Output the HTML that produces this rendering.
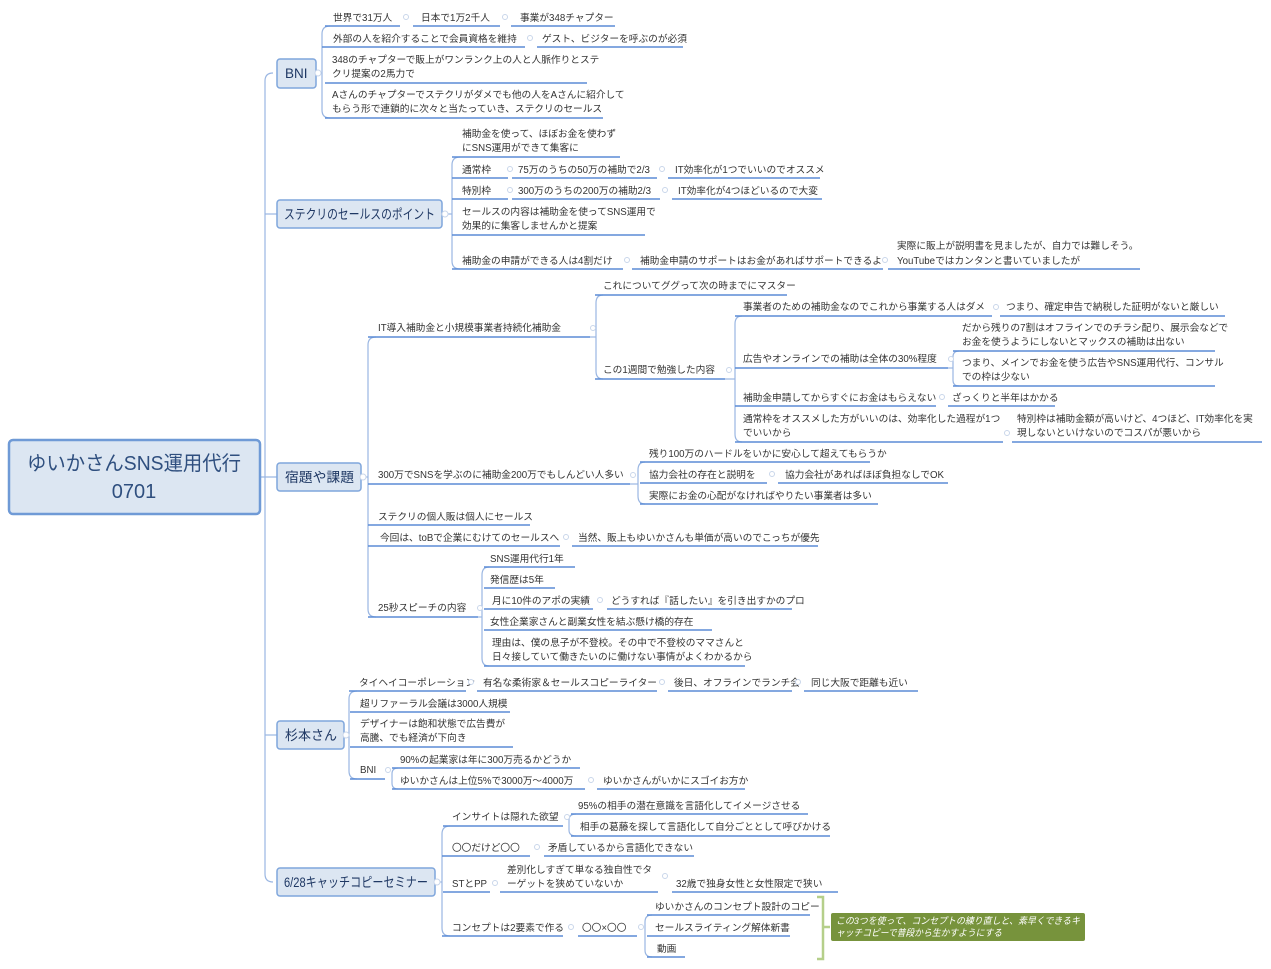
<!DOCTYPE html>
<html><head><meta charset="utf-8">
<style>
html,body{margin:0;padding:0;background:#fff;width:1271px;height:969px;overflow:hidden}
svg{display:block}
.t{font-family:"Liberation Sans","Noto Sans CJK JP",sans-serif;font-size:9.7px;fill:#333}
.u{stroke:#5b8cd6;stroke-width:1.5}
.v{stroke:#9ab6e2;fill:none;stroke-width:1.2}
.c{fill:#fff;stroke:#c9d6ea;stroke-width:1}
.n{fill:#dce6f2;stroke:#7fa6dc;stroke-width:1.5}
.nt{font-family:"Liberation Sans","Noto Sans CJK JP",sans-serif;font-size:13.5px;fill:#1f3864}
</style></head><body>
<svg width="1271" height="969" viewBox="0 0 1271 969">
<path class="v" d="M273,73 Q265,73 265,81 L265,874 Q265,882 273,882"/>
<line class="v" x1="260" y1="477" x2="277" y2="477"/>
<line class="v" x1="265" y1="214" x2="277" y2="214"/>
<line class="v" x1="265" y1="735" x2="277" y2="735"/>

<rect x="9" y="440" width="251" height="74" rx="4" fill="#dce6f2" stroke="#6f9ad6" stroke-width="2.5"/>
<text x="134" y="470" text-anchor="middle" font-family="Liberation Sans,Noto Sans CJK JP,sans-serif" font-size="20" fill="#2f4f7f" textLength="214" lengthAdjust="spacingAndGlyphs">ゆいかさんSNS運用代行</text>
<text x="134" y="498" text-anchor="middle" font-family="Liberation Sans,Noto Sans CJK JP,sans-serif" font-size="20" fill="#2f4f7f">0701</text>

<rect class="n" x="277" y="59" width="39" height="29" rx="3"/><text class="nt" x="285" y="78">BNI</text>
<rect class="n" x="277" y="200" width="165" height="28" rx="3"/><text class="nt" x="284" y="219" textLength="151" lengthAdjust="spacingAndGlyphs">ステクリのセールスのポイント</text>
<rect class="n" x="277" y="463" width="84" height="28" rx="3"/><text class="nt" x="285" y="482" textLength="69" lengthAdjust="spacingAndGlyphs">宿題や課題</text>
<rect class="n" x="277" y="721" width="67" height="28" rx="3"/><text class="nt" x="285" y="740" textLength="52" lengthAdjust="spacingAndGlyphs">杉本さん</text>
<rect class="n" x="277" y="868" width="158" height="28" rx="3"/><text class="nt" x="284" y="887" textLength="144" lengthAdjust="spacingAndGlyphs">6/28キャッチコピーセミナー</text>

<path class="v" d="M330,26 Q322,26 322,34 L322,110 Q322,118 330,118"/>
<line class="v" x1="316" y1="73" x2="322" y2="73"/>
<line class="u" x1="325" y1="26" x2="400" y2="26"/><text class="t" x="333" y="21">世界で31万人</text>
<line class="u" x1="413" y1="26" x2="500" y2="26"/><text class="t" x="421" y="21">日本で1万2千人</text>
<line class="u" x1="511" y1="26" x2="615" y2="26"/><text class="t" x="520" y="21">事業が348チャプター</text>
<line class="u" x1="322" y1="47" x2="525" y2="47"/><text class="t" x="333" y="42">外部の人を紹介することで会員資格を維持</text>
<line class="u" x1="537" y1="47" x2="683" y2="47"/><text class="t" x="542" y="42">ゲスト、ビジターを呼ぶのが必須</text>
<line class="u" x1="325" y1="83" x2="587" y2="83"/><text class="t" x="332" y="63">348のチャプターで販上がワンランク上の人と人脈作りとステ</text><text class="t" x="332" y="77">クリ提案の2馬力で</text>
<line class="u" x1="325" y1="118" x2="603" y2="118"/><text class="t" x="332" y="98">Aさんのチャプターでステクリがダメでも他の人をAさんに紹介して</text><text class="t" x="332" y="112">もらう形で連鎖的に次々と当たっていき、ステクリのセールス</text>

<path class="v" d="M460,157 Q452,157 452,165 L452,261 Q452,269 460,269"/>
<line class="v" x1="442" y1="214" x2="452" y2="214"/>
<line class="u" x1="452" y1="157" x2="620" y2="157"/><text class="t" x="462" y="137">補助金を使って、ほぼお金を使わず</text><text class="t" x="462" y="151">にSNS運用ができて集客に</text>
<line class="u" x1="452" y1="178" x2="508" y2="178"/><text class="t" x="462" y="173">通常枠</text>
<line class="u" x1="512" y1="178" x2="657" y2="178"/><text class="t" x="518" y="173">75万のうちの50万の補助で2/3</text>
<line class="u" x1="668" y1="178" x2="820" y2="178"/><text class="t" x="675" y="173">IT効率化が1つでいいのでオススメ</text>
<line class="u" x1="452" y1="199" x2="508" y2="199"/><text class="t" x="462" y="194">特別枠</text>
<line class="u" x1="512" y1="199" x2="660" y2="199"/><text class="t" x="518" y="194">300万のうちの200万の補助2/3</text>
<line class="u" x1="672" y1="199" x2="822" y2="199"/><text class="t" x="678" y="194">IT効率化が4つほどいるので大変</text>
<line class="u" x1="452" y1="235" x2="645" y2="235"/><text class="t" x="462" y="215">セールスの内容は補助金を使ってSNS運用で</text><text class="t" x="462" y="229">効果的に集客しませんかと提案</text>
<line class="u" x1="452" y1="269" x2="623" y2="269"/><text class="t" x="462" y="264">補助金の申請ができる人は4割だけ</text>
<line class="u" x1="632" y1="269" x2="883" y2="269"/><text class="t" x="640" y="264">補助金申請のサポートはお金があればサポートできるよ</text>
<line class="u" x1="888" y1="269" x2="1140" y2="269"/><text class="t" x="897" y="249">実際に販上が説明書を見ましたが、自力では難しそう。</text><text class="t" x="897" y="264">YouTubeではカンタンと書いていましたが</text>

<path class="v" d="M376,337 Q368,337 368,345 L368,609 Q368,617 376,617"/>
<line class="v" x1="361" y1="477" x2="368" y2="477"/>
<line class="u" x1="368" y1="337" x2="590" y2="337"/><text class="t" x="378" y="331">IT導入補助金と小規模事業者持続化補助金</text>
<path class="v" d="M603,295 Q596,295 596,303 L596,371 Q596,379 603,379"/>
<line class="v" x1="590" y1="337" x2="596" y2="337"/>
<line class="u" x1="595" y1="295" x2="787" y2="295"/><text class="t" x="603" y="289">これについてググって次の時までにマスター</text>
<line class="u" x1="595" y1="379" x2="725" y2="379"/><text class="t" x="603" y="373">この1週間で勉強した内容</text>
<path class="v" d="M742,316 Q735,316 735,324 L735,434 Q735,442 742,442"/>
<line class="v" x1="725" y1="379" x2="735" y2="379"/>
<line class="u" x1="735" y1="316" x2="992" y2="316"/><text class="t" x="743" y="310">事業者のための補助金なのでこれから事業する人はダメ</text>
<line class="u" x1="1000" y1="316" x2="1225" y2="316"/><text class="t" x="1006" y="310">つまり、確定申告で納税した証明がないと厳しい</text>
<line class="u" x1="735" y1="368" x2="948" y2="368"/><text class="t" x="743" y="362">広告やオンラインでの補助は全体の30%程度</text>
<path class="v" d="M959,351 Q953,351 953,357 L953,380 Q953,386 959,386"/>
<line class="v" x1="948" y1="368" x2="953" y2="368"/>
<line class="u" x1="953" y1="351" x2="1215" y2="351"/><text class="t" x="962" y="331">だから残りの7割はオフラインでのチラシ配り、展示会などで</text><text class="t" x="962" y="345">お金を使うようにしないとマックスの補助は出ない</text>
<line class="u" x1="953" y1="386" x2="1215" y2="386"/><text class="t" x="962" y="366">つまり、メインでお金を使う広告やSNS運用代行、コンサル</text><text class="t" x="962" y="380">での枠は少ない</text>
<line class="u" x1="735" y1="406" x2="936" y2="406"/><text class="t" x="743" y="401">補助金申請してからすぐにお金はもらえない</text>
<line class="u" x1="948" y1="406" x2="1055" y2="406"/><text class="t" x="952" y="401">ざっくりと半年はかかる</text>
<line class="u" x1="735" y1="442" x2="1003" y2="442"/><text class="t" x="743" y="422">通常枠をオススメした方がいいのは、効率化した過程が1つ</text><text class="t" x="743" y="436">でいいから</text>
<line class="u" x1="1012" y1="442" x2="1262" y2="442"/><text class="t" x="1017" y="422">特別枠は補助金額が高いけど、4つほど、IT効率化を実</text><text class="t" x="1017" y="436">現しないといけないのでコスパが悪いから</text>

<line class="u" x1="368" y1="484" x2="630" y2="484"/><text class="t" x="378" y="478">300万でSNSを学ぶのに補助金200万でもしんどい人多い</text>
<path class="v" d="M645,462 Q638,462 638,470 L638,496 Q638,504 645,504"/>
<line class="v" x1="630" y1="484" x2="638" y2="484"/>
<line class="u" x1="640" y1="462" x2="870" y2="462"/><text class="t" x="649" y="457">残り100万のハードルをいかに安心して超えてもらうか</text>
<line class="u" x1="640" y1="483" x2="767" y2="483"/><text class="t" x="649" y="478">協力会社の存在と説明を</text>
<line class="u" x1="778" y1="483" x2="948" y2="483"/><text class="t" x="785" y="478">協力会社があればほぼ負担なしでOK</text>
<line class="u" x1="640" y1="504" x2="878" y2="504"/><text class="t" x="649" y="499">実際にお金の心配がなければやりたい事業者は多い</text>
<line class="u" x1="368" y1="525" x2="530" y2="525"/><text class="t" x="378" y="520">ステクリの個人販は個人にセールス</text>
<line class="u" x1="368" y1="546" x2="560" y2="546"/><text class="t" x="380" y="541">今回は、toBで企業にむけてのセールスへ</text>
<line class="u" x1="572" y1="546" x2="818" y2="546"/><text class="t" x="578" y="541">当然、販上もゆいかさんも単価が高いのでこっちが優先</text>
<line class="u" x1="368" y1="617" x2="478" y2="617"/><text class="t" x="378" y="611">25秒スピーチの内容</text>
<path class="v" d="M489,567 Q482,567 482,575 L482,658 Q482,666 489,666"/>
<line class="v" x1="478" y1="617" x2="482" y2="617"/>
<line class="u" x1="484" y1="567" x2="575" y2="567"/><text class="t" x="490" y="562">SNS運用代行1年</text>
<line class="u" x1="484" y1="588" x2="555" y2="588"/><text class="t" x="490" y="583">発信歴は5年</text>
<line class="u" x1="484" y1="609" x2="593" y2="609"/><text class="t" x="492" y="604">月に10件のアポの実績</text>
<line class="u" x1="607" y1="609" x2="792" y2="609"/><text class="t" x="611" y="604">どうすれば『話したい』を引き出すかのプロ</text>
<line class="u" x1="484" y1="630" x2="712" y2="630"/><text class="t" x="490" y="625">女性企業家さんと副業女性を結ぶ懸け橋的存在</text>
<line class="u" x1="484" y1="666" x2="745" y2="666"/><text class="t" x="492" y="646">理由は、僕の息子が不登校。その中で不登校のママさんと</text><text class="t" x="492" y="660">日々接していて働きたいのに働けない事情がよくわかるから</text>

<path class="v" d="M357,691 Q349,691 349,699 L349,771 Q349,779 357,779"/>
<line class="v" x1="344" y1="735" x2="349" y2="735"/>
<line class="u" x1="349" y1="691" x2="466" y2="691"/><text class="t" x="359" y="686">タイヘイコーポレーション</text>
<line class="u" x1="477" y1="691" x2="657" y2="691"/><text class="t" x="483" y="686">有名な柔術家＆セールスコピーライター</text>
<line class="u" x1="668" y1="691" x2="792" y2="691"/><text class="t" x="674" y="686">後日、オフラインでランチ会</text>
<line class="u" x1="804" y1="691" x2="918" y2="691"/><text class="t" x="811" y="686">同じ大阪で距離も近い</text>
<line class="u" x1="350" y1="712" x2="510" y2="712"/><text class="t" x="360" y="707">超リファーラル会議は3000人規模</text>
<line class="u" x1="350" y1="747" x2="513" y2="747"/><text class="t" x="360" y="727">デザイナーは飽和状態で広告費が</text><text class="t" x="360" y="741">高騰、でも経済が下向き</text>
<line class="u" x1="350" y1="779" x2="385" y2="779"/><text class="t" x="360" y="773">BNI</text>
<path class="v" d="M398,768 Q392,768 392,774 L392,783 Q392,789 398,789"/>
<line class="u" x1="392" y1="768" x2="580" y2="768"/><text class="t" x="400" y="763">90%の起業家は年に300万売るかどうか</text>
<line class="u" x1="392" y1="789" x2="585" y2="789"/><text class="t" x="400" y="784">ゆいかさんは上位5%で3000万〜4000万</text>
<line class="u" x1="597" y1="789" x2="745" y2="789"/><text class="t" x="603" y="784">ゆいかさんがいかにスゴイお方か</text>

<path class="v" d="M450,826 Q442,826 442,834 L442,928 Q442,936 450,936"/>
<line class="v" x1="435" y1="882" x2="442" y2="882"/>
<line class="u" x1="443" y1="826" x2="563" y2="826"/><text class="t" x="452" y="820">インサイトは隠れた欲望</text>
<path class="v" d="M576,814 Q569,814 569,820 L569,830 Q569,836 576,836"/>
<line class="u" x1="571" y1="814" x2="808" y2="814"/><text class="t" x="578" y="809">95%の相手の潜在意識を言語化してイメージさせる</text>
<line class="u" x1="571" y1="836" x2="830" y2="836"/><text class="t" x="580" y="830">相手の葛藤を探して言語化して自分ごととして呼びかける</text>
<line class="u" x1="442" y1="856" x2="530" y2="856"/><text class="t" x="452" y="851">〇〇だけど〇〇</text>
<line class="u" x1="544" y1="856" x2="694" y2="856"/><text class="t" x="548" y="851">矛盾しているから言語化できない</text>
<line class="u" x1="443" y1="892" x2="490" y2="892"/><text class="t" x="452" y="887">STとPP</text>
<line class="u" x1="500" y1="892" x2="658" y2="892"/><text class="t" x="507" y="873">差別化しすぎて単なる独自性でタ</text><text class="t" x="507" y="887">ーゲットを狭めていないか</text>
<line class="u" x1="672" y1="892" x2="838" y2="892"/><text class="t" x="676" y="887">32歳で独身女性と女性限定で狭い</text>
<line class="u" x1="442" y1="936" x2="563" y2="936"/><text class="t" x="452" y="931">コンセプトは2要素で作る</text>
<line class="u" x1="578" y1="936" x2="637" y2="936"/><text class="t" x="582" y="931">〇〇×〇〇</text>
<path class="v" d="M652,915 Q645,915 645,922 L645,950 Q645,957 652,957"/>
<line class="u" x1="647" y1="915" x2="810" y2="915"/><text class="t" x="655" y="910">ゆいかさんのコンセプト設計のコピー</text>
<line class="u" x1="647" y1="936" x2="790" y2="936"/><text class="t" x="655" y="931">セールスライティング解体新書</text>
<line class="u" x1="647" y1="957" x2="685" y2="957"/><text class="t" x="657" y="952">動画</text>
<path d="M817,897 L823,897 L823,959 L817,959 M823,927 L830,927" stroke="#b5cf8a" stroke-width="2.5" fill="none"/>
<rect x="831" y="913" width="254" height="28" rx="2" fill="#77933c"/>
<text x="836" y="924" font-family="Liberation Sans,Noto Sans CJK JP,sans-serif" font-size="9.5" font-style="italic" fill="#fff" textLength="244" lengthAdjust="spacingAndGlyphs">この3つを使って、コンセプトの練り直しと、素早くできるキ</text>
<text x="836" y="936" font-family="Liberation Sans,Noto Sans CJK JP,sans-serif" font-size="9.5" font-style="italic" fill="#fff" textLength="166" lengthAdjust="spacingAndGlyphs">ャッチコピーで普段から生かすようにする</text>

<g class="c">
<circle cx="318" cy="73" r="3"/><circle cx="445" cy="214" r="3"/><circle cx="363" cy="477" r="3"/><circle cx="346" cy="735" r="3"/><circle cx="437" cy="882" r="3"/>
<circle cx="406" cy="17" r="2.5"/><circle cx="505" cy="17" r="2.5"/><circle cx="530" cy="38" r="2.5"/>
<circle cx="510" cy="169" r="2.5"/><circle cx="662" cy="169" r="2.5"/><circle cx="510" cy="190" r="2.5"/><circle cx="665" cy="190" r="2.5"/><circle cx="627" cy="260" r="2.5"/><circle cx="885" cy="260" r="2.5"/>
<circle cx="593" cy="328" r="2.5"/><circle cx="729" cy="370" r="2.5"/><circle cx="996" cy="307" r="2.5"/><circle cx="951" cy="359" r="2.5"/><circle cx="942" cy="397" r="2.5"/><circle cx="1007" cy="433" r="2.5"/>
<circle cx="633" cy="475" r="2.5"/><circle cx="772" cy="474" r="2.5"/><circle cx="566" cy="537" r="2.5"/><circle cx="480" cy="608" r="2.5"/><circle cx="600" cy="600" r="2.5"/>
<circle cx="471" cy="682" r="2.5"/><circle cx="662" cy="682" r="2.5"/><circle cx="798" cy="682" r="2.5"/><circle cx="388" cy="770" r="2.5"/><circle cx="591" cy="780" r="2.5"/>
<circle cx="567" cy="817" r="2.5"/><circle cx="537" cy="847" r="2.5"/><circle cx="495" cy="883" r="2.5"/><circle cx="665" cy="876" r="2.5"/><circle cx="571" cy="927" r="2.5"/><circle cx="641" cy="927" r="2.5"/>
</g>
</svg>
</body></html>
